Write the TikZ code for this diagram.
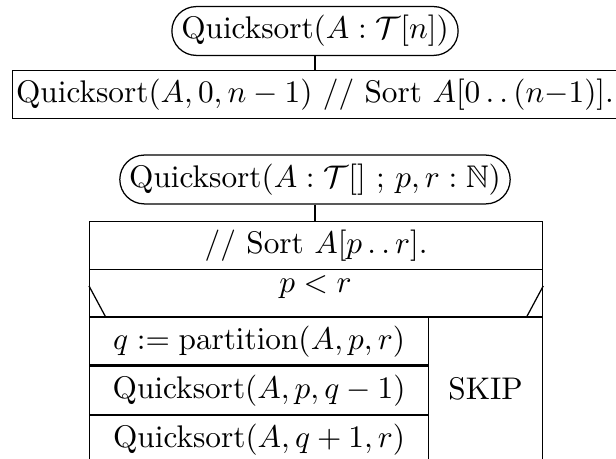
\documentclass[tikz,border=0pt]{standalone}
\usepackage{amsmath,amssymb}
\usetikzlibrary{positioning}
\def\pu{0.3195pt}
\def\twodots{\mathinner{\ldotp\ldotp}}
\tikzset{
  call/.style={draw, rounded corners=7.8pt, minimum height=15.6pt, inner xsep=3pt, inner ysep=0pt},
  stmt/.style={draw, anchor=north west, inner sep=0pt, minimum height=47.8*\pu},
}

\begin{document}
\begin{tikzpicture}[x=\pu, y=-\pu]
  \useasboundingbox (0,0) rectangle (616,459);
  \clip (0,0) rectangle (616,459);
  % short version
  \node[call] (qsn) at (315,31) {Quicksort$(A : \mathcal{T}[n])$};
  \node[draw, minimum width=605*\pu, minimum height=47.6*\pu, inner sep=0pt] (qsbody) at (315,94.5)
    {Quicksort$(A,0,n-1)$ // Sort $A[0\twodots(n{-}1)]$.};
  \draw (qsn.south) -- (qsn.south |- qsbody.north);
  % recursive version
  \node[call] (qspr) at (315,179.5) {Quicksort$(A : \mathcal{T}[]$ ; $p, r : \mathbb{N})$};
  \node[stmt, minimum width=453*\pu] (sort) at (89,221) {// Sort $A[p\twodots r]$.};
  \draw (qspr.south) -- (qspr.south |- sort.north);
  \node[stmt, minimum width=453*\pu] (cond) at (89,268.6) {};
  \node (test) at (315.5,287) {$p<r$};
  \draw (cond.south west) ++(17,0) -- ++(-17,-31.7);
  \draw (cond.south east) ++(-17,0) -- ++(17,-31.7);
  \node[stmt, minimum width=339*\pu] (part) at (89,316.7) {$q := \mathrm{partition}(A,p,r)$};
  \node[stmt, minimum width=339*\pu, below=0pt of part] (left) {Quicksort$(A,p,q-1)$};
  \node[stmt, minimum width=339*\pu, below=0pt of left] (right) {Quicksort$(A,q+1,r)$};
  \node[stmt, minimum width=114*\pu, minimum height=143.4*\pu] (skip) at (428,316.7) {SKIP};
\end{tikzpicture}
\end{document}
